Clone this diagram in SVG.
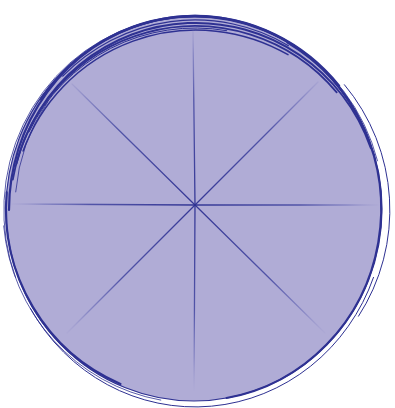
<svg xmlns="http://www.w3.org/2000/svg" width="395" height="408" viewBox="0 0 395 408">
<defs>
<radialGradient id="fade" gradientUnits="userSpaceOnUse" cx="195" cy="205" r="190">
<stop offset="0" stop-color="#2e3192" stop-opacity="0.95"/>
<stop offset="0.55" stop-color="#3a3e9c" stop-opacity="0.8"/>
<stop offset="0.8" stop-color="#5a5db0" stop-opacity="0.45"/>
<stop offset="0.97" stop-color="#8886c4" stop-opacity="0.05"/>
</radialGradient>
</defs>
<style>
.ink{fill:none;stroke:#2e3192;stroke-linecap:round}
.cut{stroke:url(#fade);stroke-width:1.3;stroke-linecap:round}
</style>
<g id="pie">
<ellipse cx="194" cy="209" rx="188" ry="192" fill="#b0acd6"/>
<ellipse class="ink" cx="194" cy="209" rx="188" ry="192" stroke-width="1.2"/>
<path class="ink" stroke-width="2.2" d="M9,210 A186,194 0 0 1 356.1,113"/>
<path class="ink" stroke-width="1.8" d="M12.8,179.7 A185,186 0 0 1 336.7,92.4"/>
<path class="ink" stroke-width="1.5" d="M23.1,151.1 A184,184 0 0 1 288,54.7"/>
<path class="ink" stroke-width="0.8" d="M15.5,277.3 A190,194 0 1 1 377.5,160.8"/>
<path class="ink" stroke-width="1" d="M29.1,131.9 A183,180 0 0 1 226.8,30.7"/>
<path class="ink" stroke-width="2.5" d="M41,99.1 A188,195 0 0 1 339,85.7"/>
<path class="ink" stroke-width="2" d="M16.3,163.8 A186,190 0 0 1 370.8,148"/>
<path class="ink" stroke-width="1.2" d="M62.8,76.2 A187,192 0 0 1 288.5,45.7"/>
<path class="ink" stroke-width="0.8" d="M15.7,191.9 A181,185 0 0 1 47.7,101.9"/>
<path class="ink" stroke-width="1" d="M344.4,84.7 A195,195 0 0 1 358.5,316.2"/>
<path class="ink" stroke-width="2" d="M287.5,42.7 A187,192 0 0 1 226.5,398.1"/>
<path class="ink" stroke-width="1" d="M373.5,277.4 A190,197 0 0 1 30.5,308.5"/>
<path class="ink" stroke-width="2.2" d="M120.5,383.9 A188,190 0 0 1 6.7,192.4"/>
<path class="ink" stroke-width="0.8" d="M160.8,400.1 A191,194 0 0 1 3.7,225.9"/>
</g>
<g id="cuts">
<line class="cut" x1="195" y1="205" x2="193" y2="30"/>
<line class="cut" x1="195" y1="205" x2="194" y2="390"/>
<line class="cut" x1="195" y1="205" x2="12" y2="204"/>
<line class="cut" x1="195" y1="205" x2="378" y2="205"/>
<line class="cut" x1="195" y1="205" x2="72" y2="84"/>
<line class="cut" x1="195" y1="205" x2="318" y2="82"/>
<line class="cut" x1="195" y1="205" x2="67" y2="333"/>
<line class="cut" x1="195" y1="205" x2="325" y2="333"/>
</g>
</svg>
